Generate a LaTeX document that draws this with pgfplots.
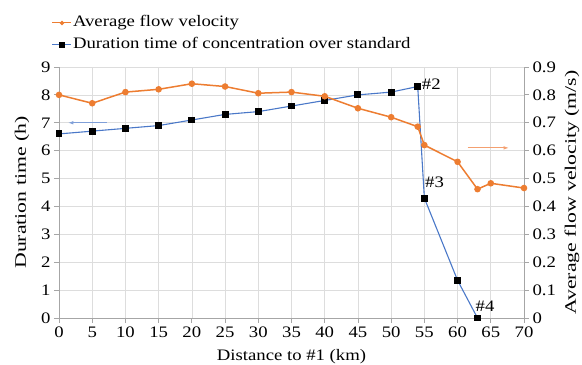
\documentclass[border=0pt]{standalone}
\usepackage{fontspec}
\setmainfont{LiberationSerif}[Extension=.ttf, UprightFont=*-Regular, BoldFont=*-Bold, ItalicFont=*-Italic, FakeStretch=1.17]
\newfontfamily\labfont{LiberationSerif}[Extension=.ttf, UprightFont=*-Regular, FakeStretch=1.36]
\usepackage{pgfplots}
\pgfplotsset{compat=1.18}
\usetikzlibrary{arrows.meta}
\definecolor{vorange}{HTML}{ED7D31}
\definecolor{dblue}{HTML}{4A78C8}
\definecolor{gridc}{HTML}{DDDDDD}
\definecolor{axc}{HTML}{A6A6A6}
\definecolor{lblue}{HTML}{7F9FD8}
\definecolor{lorange}{HTML}{F4A070}
\begin{document}
\begin{tikzpicture}
\pgfplotsset{every axis/.append style={
  scale only axis, width=465pt, height=251pt, xmin=0, xmax=70,
  font=\fontsize{16}{18}\selectfont,
  /pgf/number format/assume math mode=true,
  axis line style={axc, line width=0.8pt, -},
  tick style={axc, line width=0.8pt},
  tick align=outside, major tick length=5pt,
  clip=false}}
\begin{axis}[
  ymin=0, ymax=9, ytick={0,1,2,3,4,5,6,7,8,9},
  xtick={0,5,...,70},
  axis x line*=bottom, axis y line*=left,
  grid=major, major grid style={gridc, line width=0.6pt},
  xlabel={Distance to \#1 (km)}, ylabel={Duration time (h)},
  xlabel style={at={([yshift=-39pt]rel axis cs:0.5,0)}, anchor=center},
  ylabel style={at={([xshift=-37pt]rel axis cs:0,0.5)}, anchor=center,
    font=\fontsize{16}{18}\labfont},
]
\coordinate (bl) at (rel axis cs:0,0);
\coordinate (tr) at (rel axis cs:1,1);
\addplot[dblue, line width=1.1pt, mark=square*, mark size=2.9pt,
  mark options={black, fill=black}] coordinates {
  (0,6.6)(5,6.7)(10,6.8)(15,6.9)(20,7.1)(25,7.3)(30,7.4)(35,7.6)(40,7.8)
  (45,8.0)(50,8.1)(54,8.3)(55,4.3)(60,1.35)(63,0)};
\node[anchor=west, inner sep=0pt] at (axis cs:54.6,8.38) {\#2};
\node[anchor=west, inner sep=0pt] at (axis cs:55.1,4.85) {\#3};
\node[anchor=west, inner sep=0pt] at (axis cs:62.7,0.42) {\#4};
\draw[lblue, line width=0.8pt, -{Latex[length=5pt,width=3.5pt]}] (axis cs:7.2,7.0) -- (axis cs:1.4,7.0);
\draw[lorange, line width=0.8pt, -{Latex[length=5pt,width=3.5pt]}] (axis cs:61.5,6.1) -- (axis cs:67.7,6.1);
\end{axis}
\begin{axis}[
  ymin=0, ymax=0.9, ytick={0,0.1,0.2,0.3,0.4,0.5,0.6,0.7,0.8,0.9},
  axis y line*=right, axis x line=none,
  yticklabel style={/pgf/number format/fixed, /pgf/number format/precision=1},
  ylabel={Average flow velocity (m/s)},
  ylabel style={at={([xshift=48pt]rel axis cs:1,0.5)}, anchor=center,
    font=\fontsize{16}{18}\labfont},
  legend style={at={(rel axis cs:0,1)}, anchor=north west, xshift=-7.3pt, yshift=52.5pt,
    draw=none, fill=none, font=\fontsize{16}{18}\selectfont, row sep=5.5pt,
    inner sep=0pt, nodes={inner sep=1pt, text height=11pt, text depth=3.5pt}},
  legend cell align=left,
  legend image code/.code={\draw[mark repeat=2,mark phase=2,#1] plot coordinates {(0pt,0pt)(9.5pt,0pt)(19pt,0pt)};},
]
\addplot[vorange, line width=1.5pt, mark=*, mark size=2.5pt,
  mark options={vorange, fill=vorange}, forget plot] coordinates {
  (0,0.80)(5,0.77)(10,0.81)(15,0.82)(20,0.84)(25,0.83)(30,0.806)(35,0.81)
  (40,0.795)(45,0.752)(50,0.72)(54,0.686)(55,0.62)(60,0.56)(63,0.462)
  (65,0.483)(70,0.466)};
\addlegendimage{vorange, line width=1.1pt, mark=*, mark size=1.6pt,
  mark options={vorange, fill=vorange}}
\addlegendentry{Average flow velocity}
\addlegendimage{dblue, line width=1.1pt, mark=square*, mark size=2.2pt,
  mark options={black, fill=black}}
\addlegendentry{Duration time of concentration over standard}
\end{axis}
\pgfresetboundingbox
\path ([shift={(-59pt,-47pt)}]bl) rectangle ([shift={(58pt,67pt)}]tr);
\end{tikzpicture}
\end{document}
